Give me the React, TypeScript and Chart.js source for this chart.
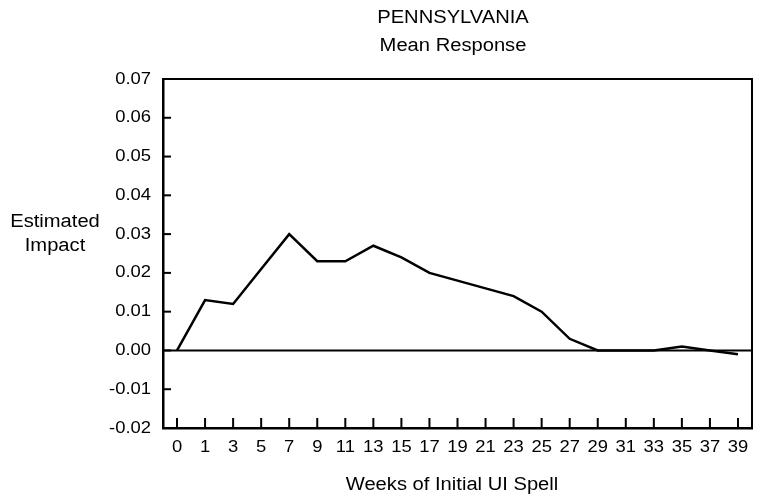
import React, { useEffect, useRef } from "react";
import { Chart, registerables } from "chart.js";

Chart.register(...registerables);

const weeks = ["0", "1", "3", "5", "7", "9", "11", "13", "15", "17", "19", "21", "23", "25", "27", "29", "31", "33", "35", "37", "39"];
const meanResponse = [0.0, 0.013, 0.012, 0.021, 0.03, 0.023, 0.023, 0.027, 0.024, 0.02, 0.018, 0.016, 0.014, 0.01, 0.003, 0.0, 0.0, 0.0, 0.001, 0.0, -0.001];
const titleLines = ["PENNSYLVANIA", "Mean Response"];
const yTitleLines = ["Estimated", "Impact"];
const xTitle = "Weeks of Initial UI Spell";

const FONT = "'Liberation Sans', Arial, sans-serif";

function stretchText(ctx: any, text: string, x: number, y: number, size: number, k: number, align: string) {
  ctx.save();
  ctx.font = size + "px " + FONT;
  ctx.textAlign = align;
  ctx.textBaseline = "alphabetic";
  ctx.translate(x, y);
  ctx.scale(k, 1);
  ctx.fillText(text, 0, 0);
  ctx.restore();
}

const decorPlugin = {
  id: "decor",
  afterDraw(chart: any) {
    const ctx = chart.ctx;
    const area = chart.chartArea;
    const xs = chart.scales.x;
    const ys = chart.scales.y;
    ctx.save();
    ctx.strokeStyle = "#000";
    ctx.lineWidth = 2;
    ctx.beginPath();
    ctx.moveTo(area.left, area.top);
    ctx.lineTo(area.right, area.top);
    ctx.lineTo(area.right, area.bottom);
    ctx.stroke();
    const y0 = ys.getPixelForValue(0);
    ctx.beginPath();
    ctx.moveTo(area.left, y0);
    ctx.lineTo(area.right, y0);
    ctx.stroke();
    ctx.fillStyle = "#000";
    ys.ticks.forEach((t: any, i: number) => {
      const py = ys.getPixelForTick(i);
      ctx.beginPath();
      ctx.moveTo(area.left, py);
      ctx.lineTo(area.left + 8, py);
      ctx.stroke();
      stretchText(ctx, Number(t.value).toFixed(2), 151, py + 4.5, 16, 1.15, "right");
    });
    xs.ticks.forEach((_t: any, i: number) => {
      const px = xs.getPixelForTick(i);
      ctx.beginPath();
      ctx.moveTo(px, area.bottom);
      ctx.lineTo(px, area.bottom - 10);
      ctx.stroke();
      stretchText(ctx, String(xs.getLabelForValue(i)), px, 452, 16, 1.15, "center");
    });
    stretchText(ctx, titleLines[0], 453, 23, 18, 1.12, "center");
    stretchText(ctx, titleLines[1], 453, 51, 18, 1.12, "center");
    stretchText(ctx, yTitleLines[0], 55, 227, 18, 1.12, "center");
    stretchText(ctx, yTitleLines[1], 55, 251, 18, 1.12, "center");
    stretchText(ctx, xTitle, 452, 490, 18, 1.12, "center");
    ctx.restore();
  },
};

export default function App() {
  const ref = useRef<HTMLCanvasElement | null>(null);
  useEffect(() => {
    document.body.style.margin = "0";
    const chart = new Chart(ref.current as HTMLCanvasElement, {
      type: "line",
      data: {
        labels: weeks,
        datasets: [
          {
            data: meanResponse,
            borderColor: "#000",
            borderWidth: 2.5,
            pointRadius: 0,
            tension: 0,
            fill: false,
          },
        ],
      },
      options: {
        responsive: false,
        animation: false,
        layout: { padding: { top: 79, right: 5, left: 0, bottom: 0 } },
        plugins: { legend: { display: false }, tooltip: { enabled: false }, title: { display: false } },
        scales: {
          x: {
            type: "category",
            offset: true,
            afterFit: (s: any) => {
              s.height = 69;
            },
            grid: { display: false, drawTicks: false },
            border: { display: true, color: "#000", width: 2.5 },
            ticks: { display: false, autoSkip: false },
          },
          y: {
            min: -0.02,
            max: 0.07,
            afterFit: (s: any) => {
              s.width = 163;
            },
            grid: { display: false, drawTicks: false },
            border: { display: true, color: "#000", width: 2.5 },
            ticks: { display: false, stepSize: 0.01 },
          },
        },
      },
      plugins: [decorPlugin],
    } as any);
    return () => chart.destroy();
  }, []);
  return (
    <div style={{ width: 757, height: 497 }}>
      <canvas ref={ref} width={757} height={497} style={{ display: "block" }} />
    </div>
  );
}
